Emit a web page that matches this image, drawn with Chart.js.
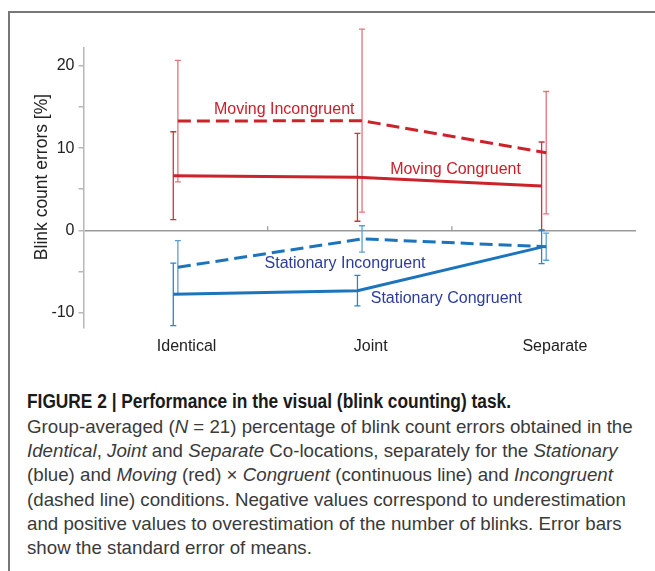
<!DOCTYPE html>
<html><head><meta charset="utf-8">
<script src="https://cdn.jsdelivr.net/npm/chart.js@4.4.0/dist/chart.umd.min.js"></script>
<style>
html,body{margin:0;padding:0;background:#fff;}
#wrap{position:relative;width:655px;height:571px;overflow:hidden;background:#fff;}
#frame{position:absolute;left:8px;top:11px;width:700px;height:620px;border-left:2px solid #777;border-top:2px solid #777;}
#c{position:absolute;left:0;top:0;width:655px;height:380px;}
#cap{position:absolute;left:27px;top:389px;font-family:"Liberation Sans",Arial,sans-serif;color:#3a3a3a;white-space:nowrap;}
.h{font-family:"Liberation Sans",Arial,sans-serif;font-weight:bold;font-size:20px;color:#1a1a1a;line-height:24px;transform-origin:0 50%;}
.b{font-size:18px;line-height:24.2px;margin-top:2px;}
</style></head><body>
<div id="wrap"><div id="frame"></div><canvas id="c" width="655" height="380"></canvas>
<div id="cap"><div class="h" id="hd"><span id="hs">FIGURE 2 | Performance in the visual (blink counting) task.</span></div>
<div class="b" id="bd"><span id="l1">Group-averaged (<i>N</i> = 21) percentage of blink count errors obtained in the</span><br><i>Identical</i>, <i>Joint</i> and <i>Separate</i> Co-locations, separately for the <i>Stationary</i><br>(blue) and <i>Moving</i> (red) × <i>Congruent</i> (continuous line) and <i>Incongruent</i><br>(dashed line) conditions. Negative values correspond to underestimation<br>and positive values to overestimation of the number of blinks. Error bars<br>show the standard error of means.</div></div>
</div>
<script>
const categories = ['Identical', 'Joint', 'Separate'];
const yTickValues = [-10, -5, 0, 5, 10, 15, 20];
const seriesNames = ['Moving Incongruent', 'Moving Congruent', 'Stationary Incongruent', 'Stationary Congruent'];
const movingIncongruent = [13.3, 13.35, 9.45];
const movingIncongruentErr = [7.4, 11.15, 7.45];
const movingCongruent = [6.65, 6.45, 5.4];
const movingCongruentErr = [5.35, 5.35, 5.35];
const stationaryIncongruent = [-4.5, -1.05, -2.0];
const stationaryIncongruentErr = [3.25, 1.6, 1.65];
const stationaryCongruent = [-7.8, -7.35, -2.05];
const stationaryCongruentErr = [3.8, 1.85, 2.0];
const labelX = [0.59, 1.52, 0.92, 1.47];
const labelY = [14.75, 7.45, -4.05, -8.3];

const FONT = '"Liberation Sans", Arial, sans-serif';
const RED = '#cc2229', BLUE = '#1c75bc';

function mk(name, data, err, color, dash, errColor, off, labelColor, idx) {
  return { label: name, data, errors: err, borderColor: color, backgroundColor: color,
    borderWidth: 3, borderDash: dash, pointRadius: 0, tension: 0, fill: false,
    errColor, errOffset: off, labelColor, labelIdx: idx };
}

const datasets = [
  mk(seriesNames[0], movingIncongruent, movingIncongruentErr, RED, [13, 6], '#e2757c', 2.3, '#c9202c', 0),
  mk(seriesNames[1], movingCongruent, movingCongruentErr, RED, [], '#d2323a', -2.3, '#c9202c', 1),
  mk(seriesNames[2], stationaryIncongruent, stationaryIncongruentErr, BLUE, [13, 6], '#5aa0d8', 2.3, '#2b3c9e', 2),
  mk(seriesNames[3], stationaryCongruent, stationaryCongruentErr, BLUE, [], '#2f83c6', -2.3, '#2b3c9e', 3)
];

const extras = {
  id: 'extras',
  afterDatasetsUpdate(chart) {
    chart.data.datasets.forEach((ds, di) => {
      chart.getDatasetMeta(di).data.forEach(p => { p.x += ds.errOffset; });
    });
  },
  beforeDatasetsDraw(chart) {
    const { ctx, scales: { x, y } } = chart;
    ctx.save();
    const zy = y.getPixelForValue(0);
    ctx.strokeStyle = '#9a9a9a'; ctx.lineWidth = 1.2;
    for (let i = 1; i < categories.length; i++) {
      const bx = (x.getPixelForValue(i - 1) + x.getPixelForValue(i)) / 2;
      ctx.beginPath(); ctx.moveTo(bx, zy); ctx.lineTo(bx, zy - 4); ctx.stroke();
    }
    chart.data.datasets.forEach(ds => {
      ctx.strokeStyle = ds.errColor; ctx.lineWidth = 1.3;
      ds.data.forEach((v, i) => {
        const px = x.getPixelForValue(i) + ds.errOffset;
        const t = y.getPixelForValue(v + ds.errors[i]);
        const b = y.getPixelForValue(v - ds.errors[i]);
        ctx.beginPath();
        ctx.moveTo(px, t); ctx.lineTo(px, b);
        ctx.moveTo(px - 3, t); ctx.lineTo(px + 3, t);
        ctx.moveTo(px - 3, b); ctx.lineTo(px + 3, b);
        ctx.stroke();
      });
    });
    ctx.restore();
  },
  afterDatasetsDraw(chart) {
    const { ctx, scales: { x, y }, chartArea } = chart;
    ctx.save();
    ctx.font = '16px ' + FONT;
    ctx.textAlign = 'center'; ctx.textBaseline = 'middle';
    chart.data.datasets.forEach(ds => {
      ctx.fillStyle = ds.labelColor;
      ctx.fillText(ds.label, x.getPixelForValue(labelX[ds.labelIdx]), y.getPixelForValue(labelY[ds.labelIdx]));
    });
    ctx.translate(42, (chartArea.top + chartArea.bottom) / 2 - 11);
    ctx.rotate(-Math.PI / 2);
    ctx.font = '17.5px ' + FONT;
    ctx.fillStyle = '#222';
    ctx.fillText('Blink count errors [%]', 0, 0);
    ctx.restore();
  }
};

new Chart(document.getElementById('c'), {
  type: 'line',
  data: { labels: categories, datasets },
  options: {
    responsive: false, animation: false,
    layout: { padding: { top: 48, right: 19, left: 0, bottom: 0 } },
    plugins: { legend: { display: false }, tooltip: { enabled: false } },
    scales: {
      x: {
        type: 'category', offset: true,
        grid: { display: false, drawTicks: false }, border: { display: false },
        ticks: { font: { size: 16, family: FONT }, color: '#222', padding: 9, labelOffset: 11, maxRotation: 0 },
        afterFit(s) { s.height = 52; }
      },
      y: {
        min: -11.9, max: 22.2,
        border: { display: true, color: '#b8b8b8', width: 1.5 },
        grid: { color: c => (c.tick && c.tick.value === 0) ? '#9a9a9a' : 'rgba(0,0,0,0)', lineWidth: 1.5,
                drawTicks: true, tickLength: 5, tickColor: '#b8b8b8' },
        ticks: { callback: v => (v % 10 === 0 ? String(v) : ''), font: { size: 16, family: FONT }, color: '#222', padding: 4, autoSkip: false },
        afterBuildTicks(s) { s.ticks = yTickValues.map(v => ({ value: v })); },
        afterFit(s) { s.width = 83.5; }
      }
    }
  },
  plugins: [extras]
});

(function fit() {
  const l1 = document.getElementById('l1');
  const bd = document.getElementById('bd');
  const w = l1.getBoundingClientRect().width;
  if (w > 0) bd.style.fontSize = (18 * 606 / w) + 'px';
  const hs = document.getElementById('hs');
  const hw = hs.getBoundingClientRect().width;
  if (hw > 0) document.getElementById('hd').style.transform = 'scaleX(' + (484 / hw) + ')';
})();
</script>
</body></html>
